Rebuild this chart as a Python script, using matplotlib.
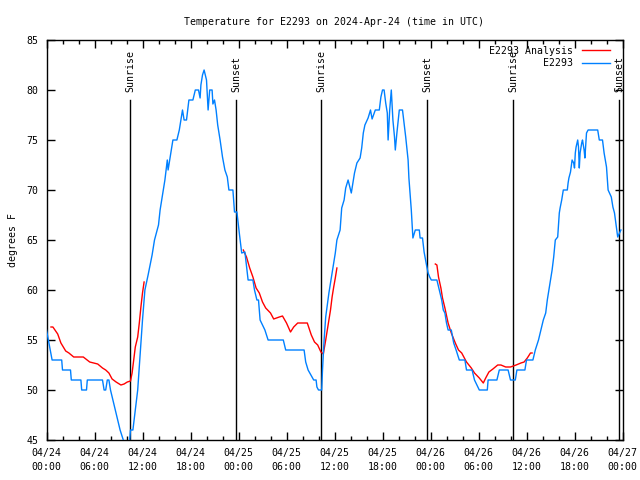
import matplotlib
matplotlib.use("Agg")
import matplotlib.pyplot as plt
import matplotlib.dates as mdates
import pandas as pd

# ---- data (hours since 2024-04-24 00:00 UTC, degrees F) ----
obs_hours = [0.0, 0.7, 1.9, 2.0, 3.0, 3.1, 4.3, 4.4, 5.0, 5.1, 7.0, 7.2, 7.4, 7.6, 7.8, 8.0,
             8.6, 9.2, 9.6, 10.0, 10.4, 10.5, 10.8, 11.1, 11.4, 11.8, 12.0, 12.3, 12.7, 13.2,
             13.5, 14.0, 14.2, 14.6, 14.8, 15.1, 15.2, 15.6, 15.8, 16.3, 16.6, 16.8, 17.0,
             17.2, 17.5, 17.8, 18.3, 18.6, 19.0, 19.2, 19.3, 19.5, 19.7, 20.0, 20.2, 20.4,
             20.7, 20.8, 21.0, 21.2, 21.4, 21.7, 22.0, 22.3, 22.6, 22.8, 23.3, 23.5, 23.8,
             24.1, 24.4, 24.8, 25.2, 25.8, 26.0, 26.3, 26.5, 26.7, 27.3, 27.7, 29.6, 29.9,
             32.2, 32.4, 32.7, 33.4, 33.7, 33.8, 34.0, 34.4, 34.5, 34.7, 34.9, 35.3, 35.7,
             36.1, 36.3, 36.7, 36.9, 37.2, 37.4, 37.7, 38.1, 38.3, 38.5, 38.8, 39.2, 39.4,
             39.6, 39.8, 40.2, 40.5, 40.7, 41.1, 41.6, 41.8, 42.0, 42.2, 42.4, 42.6, 42.7,
             42.9, 43.1, 43.3, 43.5, 43.6, 43.8, 44.1, 44.5, 44.9, 45.2, 45.3, 45.6, 45.8,
             46.1, 46.6, 46.7, 47.0, 47.2, 47.5, 47.7, 47.9, 48.1, 48.8, 49.1, 49.4, 49.6,
             49.8, 50.0, 50.2, 50.6, 50.9, 51.2, 51.6, 52.3, 52.5, 53.2, 53.5, 54.1, 55.1,
             55.2, 56.3, 56.6, 57.7, 58.0, 58.6, 58.8, 59.8, 60.0, 60.8, 61.1, 61.5, 61.8,
             62.1, 62.4, 62.6, 62.8, 63.2, 63.4, 63.6, 63.9, 64.1, 64.2, 64.4, 64.6, 65.1,
             65.2, 65.3, 65.5, 65.7, 65.9, 66.0, 66.1, 66.2, 66.4, 66.5, 66.6, 66.7, 66.9,
             67.0, 67.2, 67.3, 67.5, 67.7, 68.9, 69.1, 69.5, 69.7, 70.0, 70.2, 70.6, 70.8,
             71.0, 71.2, 71.4, 71.8]
obs_temp = [56, 53, 53, 52, 52, 51, 51, 50, 50, 51, 51, 50, 50, 51, 51, 50,
            48, 46, 45, 44, 45, 46, 46, 48, 50, 54.7, 57, 60, 61.5, 63.5,
            65, 66.5, 68, 70, 71, 73, 72, 74, 75, 75, 76, 77, 78,
            77, 77, 79, 79, 80, 80, 79.2, 80.5, 81.5, 82, 81, 78, 80,
            80, 78.6, 79, 78, 76.5, 75, 73.3, 72, 71.3, 70, 70, 67.8, 67.8,
            65.7, 63.7, 63.8, 61, 61, 60, 59, 59, 57, 56, 55, 55, 54,
            54, 52.8, 52, 51, 51, 50.3, 50, 50, 52, 55, 57.3, 59.7, 61.7,
            63.7, 65, 66, 68.2, 69, 70.2, 71, 69.7, 70.7, 71.7, 72.7, 73.2, 74.2,
            75.7, 76.5, 77.2, 78, 77.1, 78, 78, 79.3, 80, 80, 78.7, 77.7, 75,
            78, 80, 77, 75.3, 74, 75.7, 78, 78, 75.3, 73, 71.2, 68, 65.2,
            66, 66, 65.2, 65.2, 63.8, 62.5, 61.7, 61.3, 61, 61, 60, 59, 58,
            57.7, 56.7, 56, 56, 54.7, 54, 53, 53, 52, 52, 51, 50, 50,
            51, 51, 52, 52, 51, 51, 52, 52, 53, 53, 54, 55, 56,
            57, 57.7, 59, 60, 62, 63.3, 65, 65.3, 67.7, 68.2, 69, 70, 70,
            70.7, 71.2, 71.8, 73, 72.7, 72.2, 73.7, 74.3, 75, 74.3, 72.2, 73.7, 74.7,
            75, 74, 73.2, 75.7, 76, 76, 75, 75, 73.7, 72.3, 70, 69.3, 68.3,
            67.7, 66.5, 65.3, 66]

ana1_hours = [0.56, 0.8, 1.4, 1.8, 2.4, 2.8, 3.4, 4.6, 5.4, 6.4, 7.0, 7.4, 7.8, 8.2, 8.7,
              9.3, 9.7, 10.1, 10.5, 10.7, 10.9, 11.1, 11.4, 11.6, 11.8, 12.0, 12.2]
ana1_temp = [56.3, 56.3, 55.6, 54.7, 53.9, 53.7, 53.3, 53.3, 52.8, 52.6, 52.2, 52.0, 51.7,
             51.1, 50.8, 50.5, 50.6, 50.8, 50.9, 51.7, 53.0, 54.3, 55.3, 56.7, 58.3, 59.7, 60.8]
ana2_hours = [24.6, 25.0, 25.4, 25.8, 26.2, 26.6, 27.0, 27.4, 28.0, 28.4, 29.1, 29.5, 30.0,
              30.5, 30.9, 31.4, 32.6, 33.1, 33.5, 33.9, 34.3, 34.6, 34.9, 35.1, 35.3, 35.5,
              35.7, 35.9, 36.1, 36.3]
ana2_temp = [64.0, 63.3, 62.2, 61.3, 60.2, 59.7, 58.8, 58.2, 57.7, 57.1, 57.3, 57.4, 56.7,
             55.8, 56.3, 56.7, 56.7, 55.5, 54.8, 54.5, 53.8, 53.6, 55.0, 56.0, 57.0, 58.0,
             59.3, 60.3, 61.2, 62.2]
ana3_hours = [48.6, 48.8, 49.0, 49.3, 49.5, 49.8, 50.2, 50.6, 51.1, 51.5, 51.9, 52.5, 53.1,
              53.5, 54.1, 54.6, 54.9, 55.3, 55.8, 56.4, 56.8, 57.4, 58.0, 58.7, 59.3, 59.7,
              60.1, 60.5, 60.7]
ana3_temp = [62.6, 62.5, 61.3, 60.2, 59.2, 58.2, 56.7, 55.7, 54.7, 54.0, 53.7, 52.8, 52.2,
             51.7, 51.2, 50.7, 51.2, 51.8, 52.1, 52.5, 52.5, 52.3, 52.3, 52.5, 52.7, 52.8,
             53.2, 53.7, 53.7]

sun_hours = [10.48, 23.73, 34.35, 47.6, 58.35, 71.6]
sun_labels = ["Sunrise", "Sunset", "Sunrise", "Sunset", "Sunrise", "Sunset"]

title = "Temperature for E2293 on 2024-Apr-24 (time in UTC)"
start = pd.Timestamp("2024-04-24 00:00")


def to_time(hours):
    return [start + pd.Timedelta(hours=h) for h in hours]


plt.rcParams['font.family'] = ['DejaVu Sans Mono']
fs = 7.1

fig = plt.figure(figsize=(6.4, 4.8), dpi=100)
ax = fig.add_axes([46.5 / 640, 40 / 480, 576 / 640, 400 / 480])

red = "#ff0000"
blue = "#0080ff"
first = True
for hrs, tmp in [(ana1_hours, ana1_temp), (ana2_hours, ana2_temp), (ana3_hours, ana3_temp)]:
    ax.plot(to_time(hrs), tmp, color=red, lw=1.0, label="E2293 Analysis" if first else None, zorder=3)
    first = False
ax.plot(to_time(obs_hours), obs_temp, color=blue, lw=1.0, label="E2293", zorder=4)

for h, lab in zip(sun_hours, sun_labels):
    t = start + pd.Timedelta(hours=h)
    ax.plot([t, t], [45, 79], color="black", lw=1.0, zorder=2)
    ax.text(t, 79.8, lab, rotation=90, ha="center", va="bottom", fontsize=fs)

ax.set_xlim(start, start + pd.Timedelta(hours=72))
ax.set_ylim(45, 85)
ax.set_yticks(range(45, 86, 5))
ax.xaxis.set_major_locator(mdates.HourLocator(byhour=[0, 6, 12, 18]))
ax.xaxis.set_minor_locator(mdates.HourLocator(byhour=range(0, 24, 2)))
ax.xaxis.set_major_formatter(mdates.DateFormatter("%m/%d\n%H:%M"))
ax.tick_params(which="both", direction="in", top=True, right=True, labelsize=fs, width=1.0)
ax.tick_params(which="major", length=6, pad=6)
ax.tick_params(which="minor", length=3)
ax.tick_params(axis="y", pad=6)
for lab in ax.get_xticklabels():
    lab.set_linespacing(1.4)
for s in ax.spines.values():
    s.set_linewidth(1.0)

ax.set_ylabel("degrees F", fontsize=fs, labelpad=6)
ax.set_title(title, fontsize=fs, pad=11)

ax.legend(loc="upper right", bbox_to_anchor=(0.978, 0.986), frameon=False, fontsize=fs,
          markerfirst=False, handlelength=2.8, handletextpad=0.9, labelspacing=0.25,
          borderaxespad=0, borderpad=0)

fig.savefig("out.png", dpi=100)
